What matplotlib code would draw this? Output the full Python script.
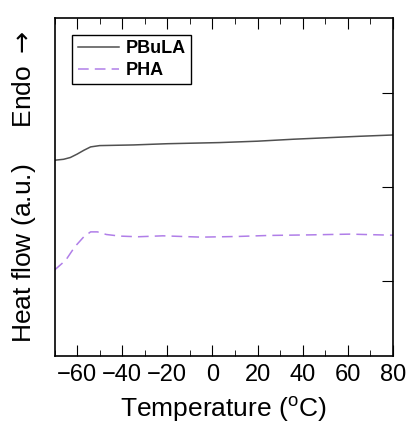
import numpy as np
import matplotlib.pyplot as plt
from matplotlib.ticker import MultipleLocator

plt.rcParams['font.family'] = ['Liberation Sans', 'DejaVu Sans']

# PBuLA trace
t_pbula = [-70, -66, -63, -60, -57, -54, -50, -35, -20, 3, 20, 36, 50, 65, 80]
hf_pbula = [2.085, 2.095, 2.114, 2.150, 2.191, 2.227, 2.241, 2.248, 2.261, 2.273,
            2.288, 2.309, 2.324, 2.340, 2.354]

# PHA trace
t_pha = [-70, -65, -61, -57, -54, -51, -47, -41, -33, -22, -5, 11, 25, 43, 61, 79, 80]
hf_pha = [0.915, 1.021, 1.163, 1.270, 1.322, 1.322, 1.294, 1.277, 1.270, 1.280,
          1.266, 1.273, 1.284, 1.290, 1.298, 1.287, 1.287]

fig = plt.figure(figsize=(4.08, 4.23), dpi=100)
ax = fig.add_axes([54.5/408, 1 - 356/423, (393 - 54.5)/408, (356 - 18)/423])

ax.plot(t_pbula, hf_pbula, '-', color='#505050', lw=1.1, label='PBuLA')
ax.plot(t_pha, hf_pha, '--', color='#b07ee8', lw=1.1, dashes=(7, 4), label='PHA')

ax.set_xlim(-70, 80)
ax.set_ylim(0, 3.6)
ax.xaxis.set_major_locator(MultipleLocator(20))
ax.xaxis.set_minor_locator(MultipleLocator(10))
ax.set_yticks([0.8, 1.8, 2.8])
ax.tick_params(axis='x', which='both', direction='in', top=True, labelsize=17, pad=6)
ax.tick_params(axis='x', which='major', length=8)
ax.tick_params(axis='x', which='minor', length=4)
ax.tick_params(axis='y', direction='in', left=False, right=True, labelleft=False, length=8)
for s in ax.spines.values():
    s.set_linewidth(1.2)

ax.set_xlabel('Temperature ($\\mathregular{^oC}$)', fontsize=19, labelpad=6)
ax.set_ylabel('Heat flow (a.u.)     Endo $\\rightarrow$', fontsize=19, labelpad=12)

leg = ax.legend(loc='upper left', bbox_to_anchor=(0.052, 0.95), borderaxespad=0,
                fancybox=False, edgecolor='black', framealpha=1,
                prop={'weight': 'bold', 'size': 13},
                handlelength=2.3, borderpad=0.3, labelspacing=0.25, handletextpad=0.35)
leg.get_frame().set_linewidth(1.0)

fig.savefig('out.png', dpi=100)
